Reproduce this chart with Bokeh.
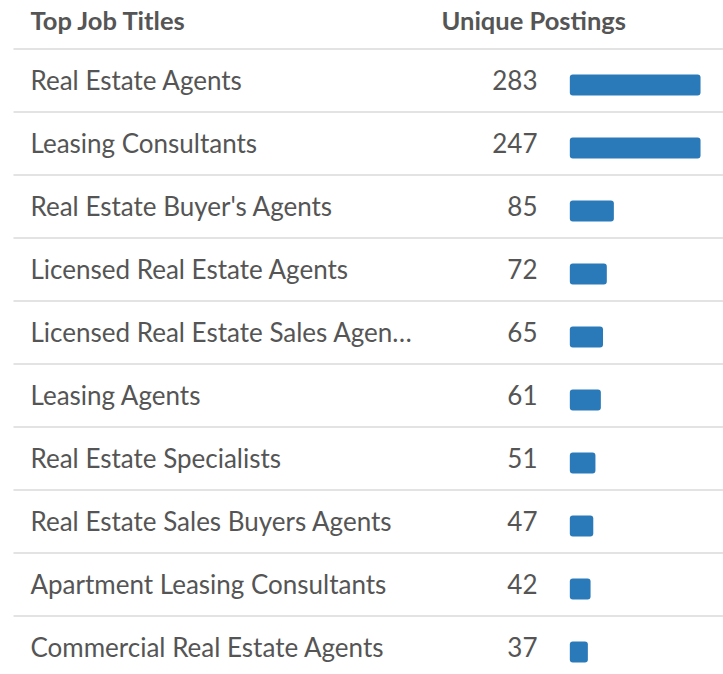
from bokeh.plotting import figure
from bokeh.models import Range1d
from bokeh.core.properties import value
from bokeh.embed import file_html
from bokeh.resources import INLINE
import numpy as np

# ---- data ----
header_titles = "Top Job Titles"
header_postings = "Unique Postings"
titles = [
    "Real Estate Agents",
    "Leasing Consultants",
    "Real Estate Buyer's Agents",
    "Licensed Real Estate Agents",
    "Licensed Real Estate Sales Agen\u2026",
    "Leasing Agents",
    "Real Estate Specialists",
    "Real Estate Sales Buyers Agents",
    "Apartment Leasing Consultants",
    "Commercial Real Estate Agents",
]
postings = [283, 247, 85, 72, 65, 61, 51, 47, 42, 37]
bar_cap = 245  # bars are clamped at this value

# ---- layout ----
W, H = 723, 674
n = len(titles)
rows = list(range(n))

p = figure(width=W, height=H, x_range=Range1d(0, W), y_range=Range1d(9.4286, -1.2698),
           output_backend="svg", toolbar_location=None, min_border=0,
           x_axis_location=None, y_axis_location=None)
p.grid.visible = False
p.outline_line_color = None
p.background_fill_color = "white"
p.border_fill_color = "white"
p.extra_x_ranges = {"bars": Range1d(-1047.3, 287.4)}

TEXT = "#555555"
FONT = value("Lato")

# separators
sep_y = [-0.5] + [r + 0.5 for r in rows]
p.segment(x0=13, x1=W, y0=sep_y, y1=sep_y, line_color="#e3e3e3", line_width=2)

# header
p.text(x=[30], y=[-0.968], text=[header_titles], text_font=FONT, text_font_size="25.5px",
       text_font_style="bold", text_color=TEXT, text_baseline="alphabetic", text_align="left")
p.text(x=[441], y=[-0.968], text=[header_postings], text_font=FONT, text_font_size="25.5px",
       text_font_style="bold", text_color=TEXT, text_baseline="alphabetic", text_align="left")

# row labels
text_y = [r + 0.0 for r in rows]
p.text(x=30, y=text_y, text=titles, text_font=FONT, text_font_size="26px",
       text_color=TEXT, text_baseline="alphabetic", text_align="left")
p.text(x=537, y=text_y, text=[str(v) for v in postings], text_font=FONT, text_font_size="26px",
       text_color=TEXT, text_baseline="alphabetic", text_align="right")

# bars
bar_y = [r + 0.071 for r in rows]
p.hbar(y=bar_y, left=3.7, right=np.minimum(postings, bar_cap), height=0.333,
       x_range_name="bars", fill_color="#2a7ab9", line_color=None,
       border_radius=3)

open("out.html", "w").write(file_html(p, INLINE))
